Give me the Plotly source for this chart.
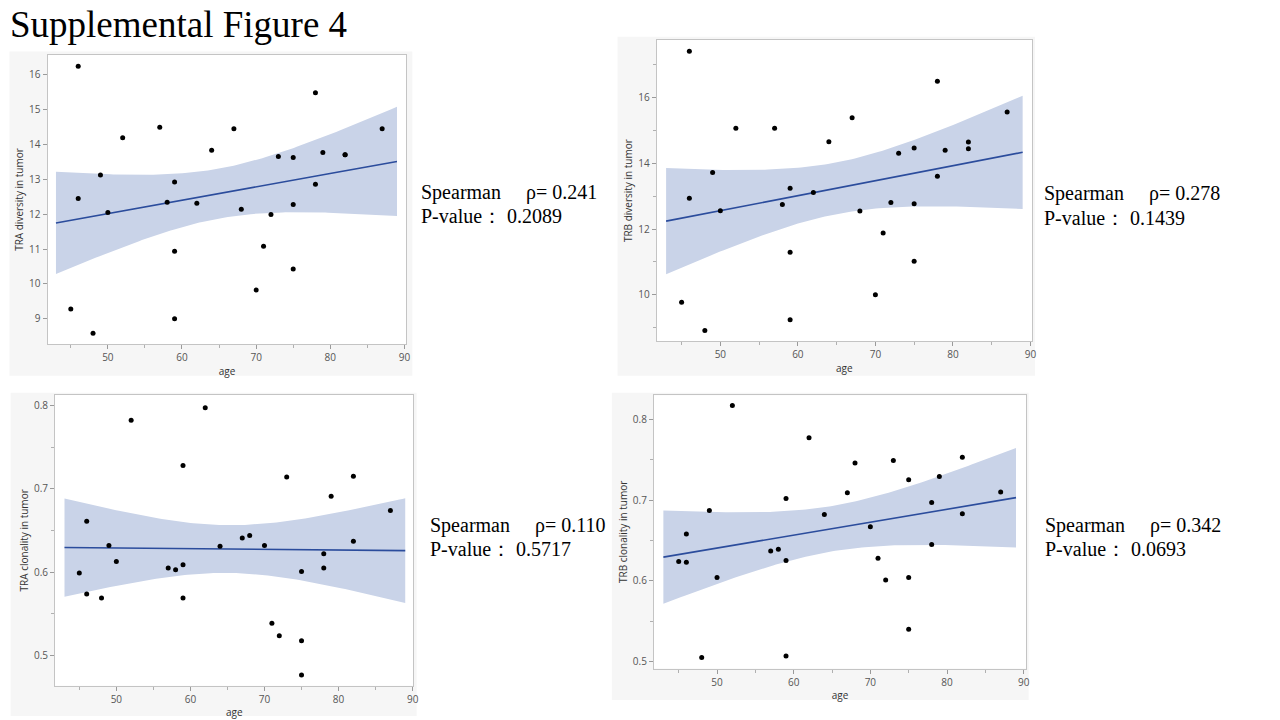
import numpy as np
import plotly.graph_objects as go

# ---------------- data ----------------
age = [45, 46, 46, 48, 49, 50, 52, 57, 58, 59, 59, 59, 62, 64, 67, 68, 70, 71, 72,
       73, 75, 75, 75, 78, 78, 79, 82, 82, 87]

tra_diversity = [9.28, 16.24, 12.45, 8.59, 13.12, 12.05, 14.19, 14.49, 12.34, 12.92,
                 10.94, 9.00, 12.31, 13.83, 14.45, 12.14, 9.83, 11.08, 11.99, 13.65,
                 13.62, 12.28, 10.43, 15.48, 12.86, 13.77, 13.70, 13.70, 14.45]

trb_diversity = [9.77, 17.42, 12.94, 8.91, 13.72, 12.56, 15.07, 15.07, 12.75, 13.24,
                 11.29, 9.24, 13.11, 14.66, 15.39, 12.55, 10.00, 11.88, 12.81, 14.31,
                 14.47, 12.77, 11.02, 16.50, 13.61, 14.40, 14.65, 14.45, 15.57]

tra_clonality = [0.599, 0.661, 0.574, 0.569, 0.632, 0.613, 0.782, 0.605, 0.603, 0.728,
                 0.609, 0.569, 0.797, 0.631, 0.641, 0.644, 0.632, 0.539, 0.524, 0.714,
                 0.601, 0.518, 0.477, 0.622, 0.605, 0.691, 0.715, 0.637, 0.674]

trb_clonality = [0.624, 0.658, 0.623, 0.505, 0.687, 0.604, 0.817, 0.637, 0.639, 0.702,
                 0.625, 0.507, 0.777, 0.682, 0.709, 0.746, 0.667, 0.628, 0.601, 0.749,
                 0.725, 0.604, 0.540, 0.697, 0.645, 0.729, 0.753, 0.683, 0.710]

y_titles = ["TRA diversity in tumor", "TRB diversity in tumor",
            "TRA clonality in tumor", "TRB clonality in tumor"]
rho_texts = ["0.241", "0.278", "0.110", "0.342"]
p_texts = ["0.2089", "0.1439", "0.5717", "0.0693"]
title_text = "Supplemental Figure 4"
x_title = "age"

# ---------------- layout geometry (pixels) ----------------
W, H = 1280, 720
panels = [
    dict(series=tra_diversity, plot=(47.7, 408, 55, 344), frame=(9.5, 414, 51.5, 375.7),
         xr=[41.86, 90.27], yr=[8.28, 16.56], ydt=1, ymin=None, text=(421, 193, 216)),
    dict(series=trb_diversity, plot=(659.3, 1036, 40, 341.3), frame=(620, 1039, 36.7, 375.7),
         xr=[41.79, 90.2], yr=[8.58, 17.76], ydt=2, ymin=1, text=(1046, 194, 218)),
    dict(series=tra_clonality, plot=(55.3, 415, 395, 685.7), frame=(10.7, 418.3, 392.7, 716),
         xr=[41.73, 90.1], yr=[0.4641, 0.8123], ydt=0.1, ymin=0.05, text=(430, 525, 549)),
    dict(series=trb_clonality, plot=(656.5, 1030, 395.3, 668.5), frame=(614.3, 1032.7, 392.7, 700),
         xr=[41.77, 90.3], yr=[0.4914, 0.8297], ydt=0.1, ymin=0.05, text=(1047, 525, 549)),
]

def px(x):
    return x / W

def py(y):
    return 1 - y / H

T_CRIT = 2.0518  # t(0.975, df=27)
fit_lo, fit_hi = 43, 89

fig = go.Figure()
shapes = []
annotations = []
tick_font = dict(family="Open Sans, Noto Sans, sans-serif", size=10, color="#555555")
title_font = dict(family="Open Sans, Noto Sans, sans-serif", size=10, color="#333333")
serif = dict(family="Liberation Serif, Times New Roman, serif", size=20, color="black")

for i, p in enumerate(panels, start=1):
    xs = "x" if i == 1 else f"x{i}"
    ys = "y" if i == 1 else f"y{i}"
    xa = np.array(age, dtype=float)
    ya = np.array(p["series"], dtype=float)
    n = len(xa)
    b, a = np.polyfit(xa, ya, 1)
    resid = ya - (a + b * xa)
    s = np.sqrt(np.sum(resid ** 2) / (n - 2))
    sxx = np.sum((xa - xa.mean()) ** 2)
    gx = np.linspace(fit_lo, fit_hi, 120)
    gy = a + b * gx
    hw = T_CRIT * s * np.sqrt(1 / n + (gx - xa.mean()) ** 2 / sxx)
    up, lo = gy + hw, gy - hw

    fig.add_trace(go.Scatter(x=np.concatenate([gx, gx[::-1]]), y=np.concatenate([up, lo[::-1]]),
                             fill="toself", fillcolor="rgb(201,211,232)", line=dict(width=0),
                             mode="lines", hoverinfo="skip", showlegend=False, xaxis=xs, yaxis=ys))
    fig.add_trace(go.Scatter(x=gx, y=gy, mode="lines", line=dict(color="#2b4c9c", width=1.6),
                             showlegend=False, xaxis=xs, yaxis=ys))
    fig.add_trace(go.Scatter(x=age, y=p["series"], mode="markers",
                             marker=dict(color="black", size=5), showlegend=False,
                             xaxis=xs, yaxis=ys))

    l, r, t, bt = p["plot"]
    xkey = "xaxis" if i == 1 else f"xaxis{i}"
    ykey = "yaxis" if i == 1 else f"yaxis{i}"
    fig.layout[xkey] = dict(domain=[px(l), px(r)], anchor=ys, range=p["xr"], dtick=10, tick0=0,
                            ticks="outside", ticklen=4, tickcolor="#9a9a9a", showgrid=False,
                            zeroline=False, showline=True, mirror=True, linecolor="#c4c4c4",
                            linewidth=1, tickfont=tick_font,
                            minor=dict(ticks="outside", ticklen=3, dtick=5, tickcolor="#b0b0b0"),
                            title=dict(text=x_title, font=title_font, standoff=4))
    ydict = dict(domain=[py(bt), py(t)], anchor=xs, range=p["yr"], dtick=p["ydt"], tick0=0,
                 ticks="outside", ticklen=4, tickcolor="#9a9a9a", showgrid=False,
                 zeroline=False, showline=True, mirror=True, linecolor="#c4c4c4",
                 linewidth=1, tickfont=tick_font,
                 title=dict(text=y_titles[i - 1], font=title_font, standoff=3))
    if p["ymin"]:
        ydict["minor"] = dict(ticks="outside", ticklen=3, dtick=p["ymin"], tickcolor="#b0b0b0")
    fig.layout[ykey] = ydict

    fl, fr, ft, fb = p["frame"]
    shapes.append(dict(type="rect", xref="paper", yref="paper", x0=px(fl), x1=px(fr),
                       y0=py(fb), y1=py(ft), fillcolor="#f6f6f6", line=dict(width=0),
                       layer="below"))
    shapes.append(dict(type="rect", xref="paper", yref="paper", x0=px(l), x1=px(r),
                       y0=py(bt), y1=py(t), fillcolor="white", line=dict(width=0),
                       layer="below"))

    tx, ty1, ty2 = p["text"]
    annotations.append(dict(xref="paper", yref="paper", x=px(tx), y=py(ty1), xanchor="left",
                            yanchor="middle", showarrow=False, font=serif,
                            text=f"Spearman\u3000 ρ= {rho_texts[i - 1]}"))
    annotations.append(dict(xref="paper", yref="paper", x=px(tx), y=py(ty2), xanchor="left",
                            yanchor="middle", showarrow=False, font=serif,
                            text=f"P-value\uff1a {p_texts[i - 1]}"))

annotations.append(dict(xref="paper", yref="paper", x=px(8), y=py(24.5), xanchor="left",
                        yanchor="middle", showarrow=False, text=title_text,
                        font=dict(family="Liberation Serif, Times New Roman, serif", size=37,
                                  color="black")))

fig.update_layout(width=W, height=H, margin=dict(l=0, r=0, t=0, b=0, pad=0),
                  paper_bgcolor="white", plot_bgcolor="white", showlegend=False,
                  shapes=shapes, annotations=annotations)

fig.write_html("out.html", config={"displayModeBar": False},
               post_script="document.body.style.margin='0';document.body.style.overflow='hidden';")
